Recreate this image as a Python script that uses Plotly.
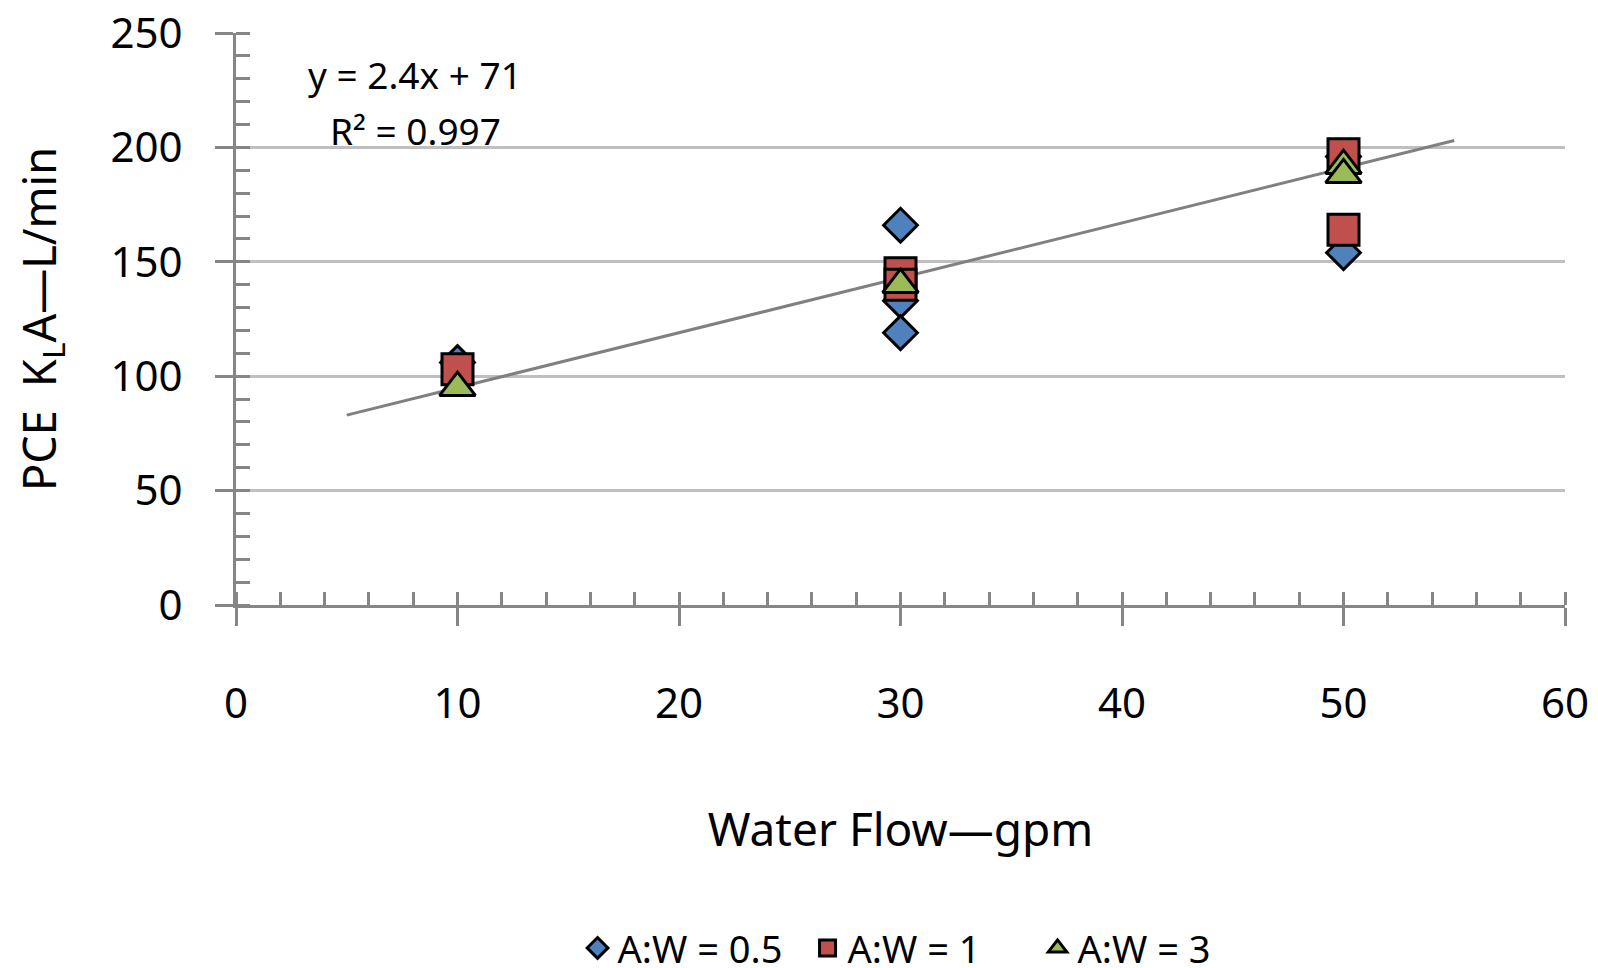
import plotly.graph_objects as go

# ---- data ----
x_aw05 = [10, 30, 30, 30, 50, 50]
y_aw05 = [106, 166, 133, 119, 196, 154]

x_aw1 = [10, 30, 30, 50, 50]
y_aw1 = [103, 145, 140, 197, 164]

x_aw3 = [10, 30, 50, 50]
y_aw3 = [95, 140, 192, 188]

trend_slope = 2.4
trend_intercept = 71
trend_x = [5, 55]
trend_y = [trend_slope * v + trend_intercept for v in trend_x]

x_ticks = [0, 10, 20, 30, 40, 50, 60]
y_ticks = [0, 50, 100, 150, 200, 250]

FONT = "Noto Sans"
AXIS_COLOR = "#868686"
GRID_COLOR = "#BFBFBF"

fig = go.Figure()

fig.add_trace(go.Scatter(
    x=trend_x, y=trend_y, mode="lines",
    line=dict(color="#808080", width=3),
    showlegend=False, hoverinfo="skip"))

fig.add_trace(go.Scatter(
    x=x_aw05, y=y_aw05, mode="markers", name="A:W = 0.5",
    marker=dict(symbol="diamond", size=26, color="#4F81BD",
                line=dict(color="black", width=3))))
fig.add_trace(go.Scatter(
    x=x_aw1, y=y_aw1, mode="markers", name="A:W = 1",
    marker=dict(symbol="square", size=31, color="#C0504D",
                line=dict(color="black", width=3))))
fig.add_trace(go.Scatter(
    x=x_aw3, y=y_aw3, mode="markers", name="A:W = 3",
    marker=dict(symbol="triangle-up", size=31, color="#9BBB59",
                line=dict(color="black", width=3))))

fig.add_annotation(
    xref="paper", yref="paper", x=0.135, y=0.927,
    text="y = 2.4x + 71", showarrow=False,
    font=dict(family=FONT, size=37, color="black"),
    xanchor="center", yanchor="middle")
fig.add_annotation(
    xref="paper", yref="paper", x=0.135, y=0.829,
    text="R² = 0.997", showarrow=False,
    font=dict(family=FONT, size=37, color="black"),
    xanchor="center", yanchor="middle")

fig.update_layout(
    width=1590, height=960,
    paper_bgcolor="white", plot_bgcolor="white",
    margin=dict(l=228, r=33, t=25, b=363, autoexpand=False),
    font=dict(family=FONT, color="black"),
    showlegend=True,
    legend=dict(orientation="h", x=0.257, xanchor="left",
                y=-0.6, yanchor="middle",
                entrywidth=185, entrywidthmode="pixels",
                font=dict(family=FONT, size=38, color="black"),
                bgcolor="rgba(0,0,0,0)"),
    xaxis=dict(
        range=[0, 60], tickvals=x_ticks, ticktext=[str(v) for v in x_ticks],
        showline=True, linecolor=AXIS_COLOR, linewidth=3,
        ticks="outside", ticklen=18, tickwidth=3, tickcolor=AXIS_COLOR,
        minor=dict(dtick=2, ticks="inside", ticklen=13, tickwidth=3,
                   tickcolor=AXIS_COLOR, showgrid=False),
        showgrid=False, zeroline=False,
        tickfont=dict(family=FONT, size=42, color="black"),
        ticklabelstandoff=42, ticklabeloverflow="allow",
        title=dict(text="Water Flow—gpm", standoff=85,
                   font=dict(family=FONT, size=46, color="black")),
        automargin=False),
    yaxis=dict(
        range=[0, 250], tickvals=y_ticks, ticktext=[str(v) for v in y_ticks],
        showline=True, linecolor=AXIS_COLOR, linewidth=3,
        ticks="outside", ticklen=18, tickwidth=3, tickcolor=AXIS_COLOR,
        minor=dict(dtick=10, ticks="inside", ticklen=14, tickwidth=3,
                   tickcolor=AXIS_COLOR, showgrid=False),
        showgrid=True, gridcolor=GRID_COLOR, gridwidth=3,
        zeroline=False,
        tickfont=dict(family=FONT, size=42, color="black"),
        ticklabelstandoff=24, ticklabeloverflow="allow",
        title=dict(text="PCE  K<sub>L</sub>A—L/min", standoff=59,
                   font=dict(family=FONT, size=45, color="black")),
        automargin=False),
)

fig.write_html("out.html")
